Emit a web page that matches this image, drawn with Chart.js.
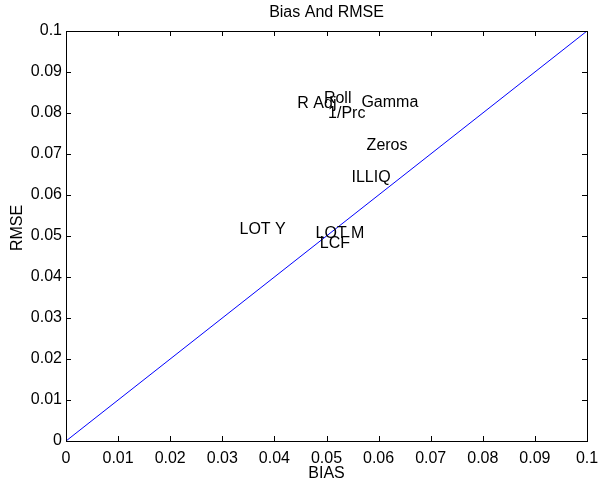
<!DOCTYPE html>
<html>
<head>
<meta charset="utf-8">
<script src="https://cdn.jsdelivr.net/npm/chart.js@4.4.0/dist/chart.umd.min.js"></script>
<style>
  html, body { margin: 0; padding: 0; background: #fff; }
  #wrap { width: 598px; height: 481px; position: relative; }
</style>
</head>
<body>
<div id="wrap"><canvas id="c"></canvas></div>
<script>
// measures and where their labels sit
const measureNames = ['R Adj', 'Roll', 'Gamma', '1/Prc', 'Zeros', 'ILLIQ', 'LOT Y', 'LOT M', 'LCF'];
const biasValues = [0.0444, 0.0495, 0.0567, 0.0503, 0.0577, 0.0548, 0.0333, 0.0479, 0.0487];
const rmseValues = [0.0822, 0.0834, 0.0826, 0.0799, 0.0720, 0.0643, 0.0515, 0.0507, 0.0482];

// 45 degree reference line
const lineBias = [0, 0.1];
const lineRmse = [0, 0.1];

const tickValues = [0, 0.01, 0.02, 0.03, 0.04, 0.05, 0.06, 0.07, 0.08, 0.09, 0.1];
const tickLabels = ['0', '0.01', '0.02', '0.03', '0.04', '0.05', '0.06', '0.07', '0.08', '0.09', '0.1'];

const FONT = 'Liberation Sans, Arial, Helvetica, sans-serif';

const matlabAxes = {
  id: 'matlabAxes',
  afterDraw(chart) {
    const ctx = chart.ctx;
    const a = chart.chartArea;
    const xs = chart.scales.x, ys = chart.scales.y;
    ctx.save();
    ctx.strokeStyle = '#000';
    ctx.lineWidth = 1;
    ctx.strokeRect(Math.round(a.left) + 0.5, Math.round(a.top) + 0.5,
      Math.round(a.right - a.left), Math.round(a.bottom - a.top));
    // inward ticks on all four sides
    ctx.beginPath();
    tickValues.forEach(v => {
      const px = Math.round(xs.getPixelForValue(v)) + 0.5;
      ctx.moveTo(px, a.bottom); ctx.lineTo(px, a.bottom - 5);
      ctx.moveTo(px, a.top); ctx.lineTo(px, a.top + 5);
      const py = Math.round(ys.getPixelForValue(v)) + 0.5;
      ctx.moveTo(a.left, py); ctx.lineTo(a.left + 5, py);
      ctx.moveTo(a.right, py); ctx.lineTo(a.right - 5, py);
    });
    ctx.stroke();

    // point labels
    ctx.fillStyle = '#000';
    ctx.font = '16px ' + FONT;
    ctx.textAlign = 'left';
    ctx.textBaseline = 'middle';
    measureNames.forEach((name, i) => {
      ctx.fillText(name, xs.getPixelForValue(biasValues[i]), ys.getPixelForValue(rmseValues[i]));
    });

    // titles
    ctx.textAlign = 'center';
    ctx.fillText('Bias And RMSE', (a.left + a.right) / 2, 13);
    ctx.fillText('BIAS', (a.left + a.right) / 2, 474);
    ctx.translate(18, 228);
    ctx.rotate(-Math.PI / 2);
    ctx.fillText('RMSE', 0, 0);
    ctx.restore();
  }
};

new Chart(document.getElementById('c'), {
  type: 'scatter',
  data: {
    datasets: [{
      data: lineBias.map((b, i) => ({ x: b, y: lineRmse[i] })),
      showLine: true,
      borderColor: '#0000ff',
      borderWidth: 1,
      pointRadius: 0,
      fill: false
    }]
  },
  options: {
    responsive: true,
    maintainAspectRatio: false,
    animation: false,
    layout: { padding: { left: 0, right: 11, top: 31, bottom: 0 } },
    plugins: { legend: { display: false }, tooltip: { enabled: false } },
    scales: {
      x: {
        type: 'linear', min: 0, max: 0.1,
        afterBuildTicks: s => { s.ticks = tickValues.map(v => ({ value: v })); },
        afterFit: s => { s.height = 40; s.paddingLeft = 0; s.paddingRight = 0; },
        grid: { display: false, drawTicks: false },
        border: { display: false },
        ticks: {
          color: '#000', padding: 8, maxRotation: 0, autoSkip: false,
          font: { family: FONT, size: 16 },
          callback: (v, i) => tickLabels[i]
        }
      },
      y: {
        type: 'linear', min: 0, max: 0.1,
        afterBuildTicks: s => { s.ticks = tickValues.map(v => ({ value: v })); },
        afterFit: s => { s.width = 66; s.paddingTop = 0; s.paddingBottom = 0; },
        grid: { display: false, drawTicks: false },
        border: { display: false },
        ticks: {
          color: '#000', padding: 4, autoSkip: false,
          font: { family: FONT, size: 16 },
          callback: (v, i) => tickLabels[i]
        }
      }
    }
  },
  plugins: [matlabAxes]
});
</script>
</body>
</html>
